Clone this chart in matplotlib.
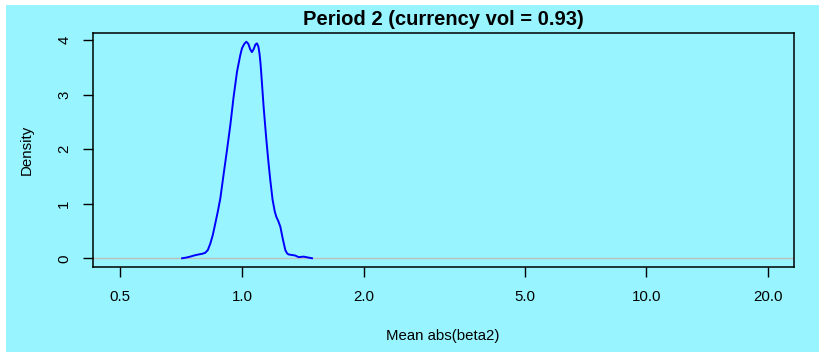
import numpy as np
import matplotlib
matplotlib.use("Agg")
import matplotlib.pyplot as plt
from matplotlib.patches import Rectangle

# density curve (x on log scale)
beta_x = [0.711, 0.725, 0.745, 0.760, 0.781, 0.795, 0.811, 0.823, 0.835,
          0.847, 0.859, 0.871, 0.884, 0.901, 0.918, 0.936, 0.953, 0.972,
          0.990, 1.000, 1.013, 1.025, 1.037, 1.048, 1.058, 1.068, 1.080,
          1.089, 1.098, 1.105, 1.111, 1.116, 1.131, 1.140, 1.149, 1.162,
          1.175, 1.190, 1.205, 1.216, 1.230, 1.244, 1.262, 1.280, 1.293,
          1.304, 1.330, 1.355, 1.380, 1.420, 1.490]
density = [0.00, 0.01, 0.03, 0.05, 0.07, 0.08, 0.10, 0.15, 0.27,
           0.43, 0.64, 0.85, 1.10, 1.55, 1.98, 2.45, 2.95, 3.42,
           3.72, 3.85, 3.93, 3.97, 3.93, 3.83, 3.78, 3.83, 3.92,
           3.94, 3.88, 3.75, 3.58, 3.39, 2.78, 2.47, 2.17, 1.78,
           1.43, 1.08, 0.86, 0.76, 0.68, 0.58, 0.35, 0.15, 0.09,
           0.07, 0.06, 0.05, 0.02, 0.03, 0.00]

x_ticks = [0.5, 1.0, 2.0, 5.0, 10.0, 20.0]
x_tick_labels = ["0.5", "1.0", "2.0", "5.0", "10.0", "20.0"]
y_ticks = [0, 1, 2, 3, 4]
title = "Period 2 (currency vol = 0.93)"

bg = "#98F5FF"
plt.rcParams["font.family"] = ["Liberation Sans", "DejaVu Sans"]

fig = plt.figure(figsize=(8.2, 3.52), dpi=100, facecolor="white")
fig.patches.append(Rectangle((6 / 820, 0), 1, 347 / 352, transform=fig.transFigure,
                             facecolor=bg, edgecolor="none", zorder=-10))

ax = fig.add_axes([93 / 820, 85 / 352, 701 / 820, 234 / 352])
ax.set_facecolor(bg)

ax.axhline(0, color="#BEBEBE", lw=1.0, zorder=1)
ax.plot(beta_x, density, color="#0000FF", lw=1.4, zorder=2)

ax.set_xscale("log")
ax.set_xlim(0.428, 23.2)
ax.set_ylim(-0.16, 4.13)
ax.set_xticks(x_ticks)
ax.set_xticklabels(x_tick_labels)
ax.xaxis.set_minor_locator(matplotlib.ticker.NullLocator())
ax.set_yticks(y_ticks)
ax.set_yticklabels([str(v) for v in y_ticks], rotation=90, va="center")

for s in ax.spines.values():
    s.set_linewidth(1.1)
ax.tick_params(axis="x", length=7.2, width=1.0, pad=9.5, labelsize=10.8, colors="black")
ax.tick_params(axis="y", length=7.2, width=1.0, pad=8.4, labelsize=10.8, colors="black")

ax.set_title(title, fontsize=14.5, fontweight="bold", pad=6)
fig.text(443 / 820, 1 - 336 / 352, "Mean abs(beta2)", ha="center", va="center", fontsize=10.8)
fig.text(27 / 820, 1 - 150 / 352, "Density", ha="center", va="center", rotation=90, fontsize=10.8)

fig.savefig("out.png", dpi=100, facecolor=fig.get_facecolor())
